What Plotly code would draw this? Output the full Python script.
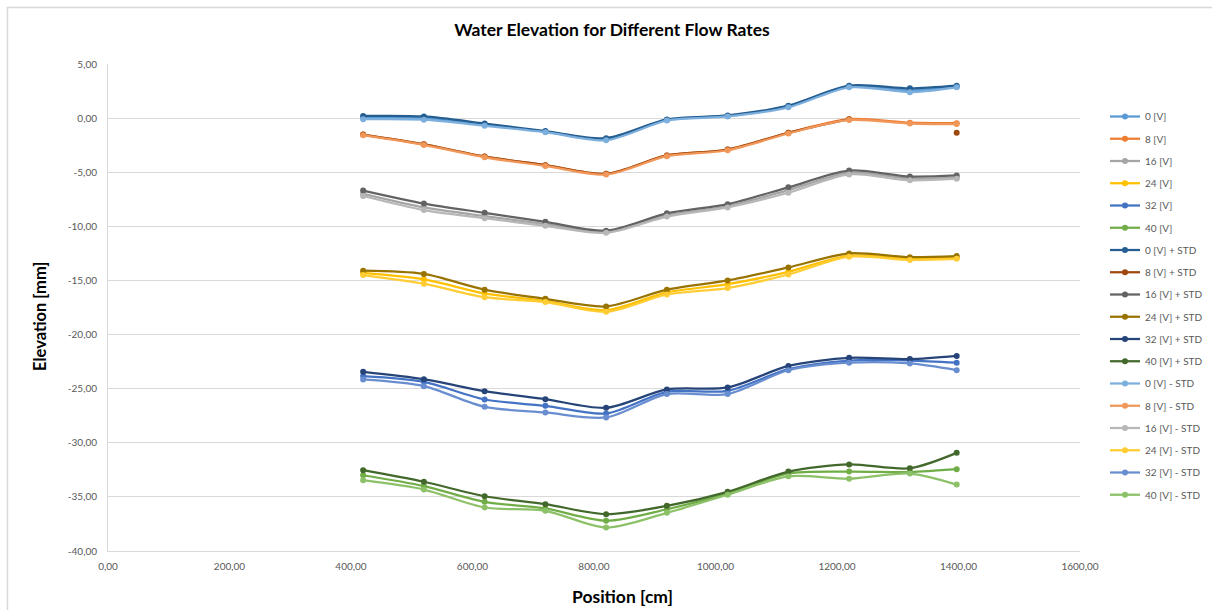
import plotly.graph_objects as go

# ---------------- data ----------------
positions = [420, 520, 620, 720, 820, 920, 1020, 1120, 1220, 1320, 1397]

v0 = [0.05, 0.0, -0.6, -1.25, -1.95, -0.18, 0.2, 1.1, 2.95, 2.55, 2.9]
v8 = [-1.52, -2.42, -3.55, -4.35, -5.15, -3.45, -2.9, -1.35, -0.1, -0.42, -0.47]
v16 = [-7.0, -8.25, -9.05, -9.8, -10.5, -9.0, -8.15, -6.65, -5.05, -5.6, -5.5]
v24 = [-14.3, -14.9, -16.2, -16.9, -17.75, -16.1, -15.35, -14.2, -12.7, -13.0, -12.9]
v32 = [-23.84, -24.37, -26.0, -26.59, -27.29, -25.29, -25.2, -23.2, -22.4, -22.4, -22.6]
v40 = [-33.0, -34.0, -35.46, -36.07, -37.2, -36.14, -34.7, -32.84, -32.66, -32.7, -32.44]

v0_plus = [0.2, 0.15, -0.5, -1.2, -1.85, -0.12, 0.25, 1.15, 3.0, 2.75, 3.0]
v8_plus = [-1.52, -2.42, -3.55, -4.35, -5.15, -3.45, -2.9, -1.35, -0.1, None, -1.35]
v16_plus = [-6.7, -7.9, -8.75, -9.58, -10.4, -8.8, -7.95, -6.4, -4.85, -5.4, -5.3]
v24_plus = [-14.1, -14.4, -15.85, -16.7, -17.4, -15.85, -15.0, -13.8, -12.5, -12.85, -12.75]
v32_plus = [-23.44, -24.12, -25.23, -25.97, -26.77, -25.07, -24.89, -22.9, -22.15, -22.27, -21.97]
v40_plus = [-32.53, -33.6, -34.94, -35.67, -36.6, -35.83, -34.53, -32.66, -32.0, -32.35, -30.93]

v0_minus = [-0.1, -0.15, -0.7, -1.3, -2.05, -0.22, 0.15, 1.0, 2.85, 2.4, 2.85]
v8_minus = [-1.58, -2.48, -3.62, -4.42, -5.22, -3.52, -2.97, -1.42, -0.17, -0.5, -0.55]
v16_minus = [-7.2, -8.5, -9.25, -9.95, -10.6, -9.1, -8.25, -6.9, -5.2, -5.75, -5.6]
v24_minus = [-14.5, -15.3, -16.55, -17.0, -17.9, -16.3, -15.7, -14.45, -12.8, -13.1, -13.0]
v32_minus = [-24.15, -24.77, -26.68, -27.2, -27.66, -25.5, -25.5, -23.3, -22.6, -22.67, -23.29]
v40_minus = [-33.46, -34.32, -35.98, -36.29, -37.83, -36.47, -34.8, -33.1, -33.33, -32.84, -33.86]

series_names = [
    "0 [V]", "8 [V]", "16 [V]", "24 [V]", "32 [V]", "40 [V]",
    "0 [V] + STD", "8 [V] + STD", "16 [V] + STD", "24 [V] + STD", "32 [V] + STD", "40 [V] + STD",
    "0 [V] - STD", "8 [V] - STD", "16 [V] - STD", "24 [V] - STD", "32 [V] - STD", "40 [V] - STD",
]
series_values = [
    v0, v8, v16, v24, v32, v40,
    v0_plus, v8_plus, v16_plus, v24_plus, v32_plus, v40_plus,
    v0_minus, v8_minus, v16_minus, v24_minus, v32_minus, v40_minus,
]

y_ticks = [5, 0, -5, -10, -15, -20, -25, -30, -35, -40]
y_tick_labels = ["5,00", "0,00", "-5,00", "-10,00", "-15,00", "-20,00", "-25,00", "-30,00", "-35,00", "-40,00"]
x_ticks = [0, 200, 400, 600, 800, 1000, 1200, 1400, 1600]
x_tick_labels = ["0,00", "200,00", "400,00", "600,00", "800,00", "1000,00", "1200,00", "1400,00", "1600,00"]

# ---------------- styling ----------------
colors = [
    "#5B9BD5", "#ED7D31", "#A5A5A5", "#FFC000", "#4472C4", "#70AD47",
    "#255E91", "#9E480E", "#636363", "#997300", "#264478", "#43682B",
    "#7CAFDD", "#F1975A", "#B7B7B7", "#FFCD33", "#698ED0", "#8CC168",
]

fig = go.Figure()
for i, (name, vals) in enumerate(zip(series_names, series_values)):
    fig.add_trace(go.Scatter(
        x=positions, y=vals, name=name, mode="lines+markers",
        line=dict(color=colors[i], width=2.25, shape="spline", smoothing=0.8),
        marker=dict(color=colors[i], size=6),
        legendgroup=f"g{i}",
    ))

L, R, T, B = 108, 132, 64, 59
W, H = 1212, 610
pw, ph = W - L - R, H - T - B

fig.update_layout(
    width=W, height=H,
    margin=dict(l=L, r=R, t=T, b=B, autoexpand=False),
    paper_bgcolor="white", plot_bgcolor="white",
    font=dict(family="Lato, 'Open Sans', sans-serif", color="#595959", size=10),
    title=dict(
        text="<b>Water Elevation for Different Flow Rates</b>",
        x=612 / W, xanchor="center", xref="container",
        y=1 - 30 / H, yanchor="middle", yref="container",
        font=dict(family="Lato, sans-serif", size=17.5, color="#000000"),
    ),
    xaxis=dict(
        range=[0, 1600], tickvals=x_ticks, ticktext=x_tick_labels,
        showgrid=False, zeroline=False, showline=True, linecolor="#D9D9D9", linewidth=1,
        ticks="", ticklabelstandoff=6,
        tickfont=dict(size=10, color="#595959"),
        automargin=False,
    ),
    yaxis=dict(
        range=[-40, 5], tickvals=y_ticks, ticktext=y_tick_labels,
        showgrid=True, gridcolor="#D9D9D9", gridwidth=1,
        zeroline=False, showline=True, linecolor="#D9D9D9", linewidth=1,
        ticks="", ticklabelstandoff=8,
        tickfont=dict(size=10, color="#595959"),
        automargin=False,
    ),
    legend=dict(
        x=(1105 - L) / pw, xanchor="left",
        y=(H - B - 102) / ph, yanchor="top",
        font=dict(size=10, color="#595959"),
        tracegroupgap=3.25, itemwidth=30,
        bgcolor="rgba(0,0,0,0)",
    ),
    showlegend=True,
)

# axis titles
fig.add_annotation(
    text="<b>Position [cm]</b>", xref="paper", yref="paper",
    x=(622 - L) / pw, y=-(596 - (H - B)) / ph, xanchor="center", yanchor="middle",
    showarrow=False, font=dict(family="Lato, sans-serif", size=17.5, color="#000000"),
)
fig.add_annotation(
    text="<b>Elevation [mm]</b>", xref="paper", yref="paper",
    x=-(L - 40) / pw, y=(H - B - 317) / ph, xanchor="center", yanchor="middle",
    textangle=-90, showarrow=False,
    font=dict(family="Lato, sans-serif", size=16.5, color="#000000"),
)

# outer chart border
fig.add_shape(
    type="rect", xref="paper", yref="paper",
    x0=(7.5 - L) / pw, x1=(W + 20 - L) / pw,
    y0=-(B + 20) / ph, y1=(H - B - 7.5) / ph,
    line=dict(color="#D9D9D9", width=1.5), fillcolor="rgba(0,0,0,0)", layer="below",
)

fig.write_html("out.html")
